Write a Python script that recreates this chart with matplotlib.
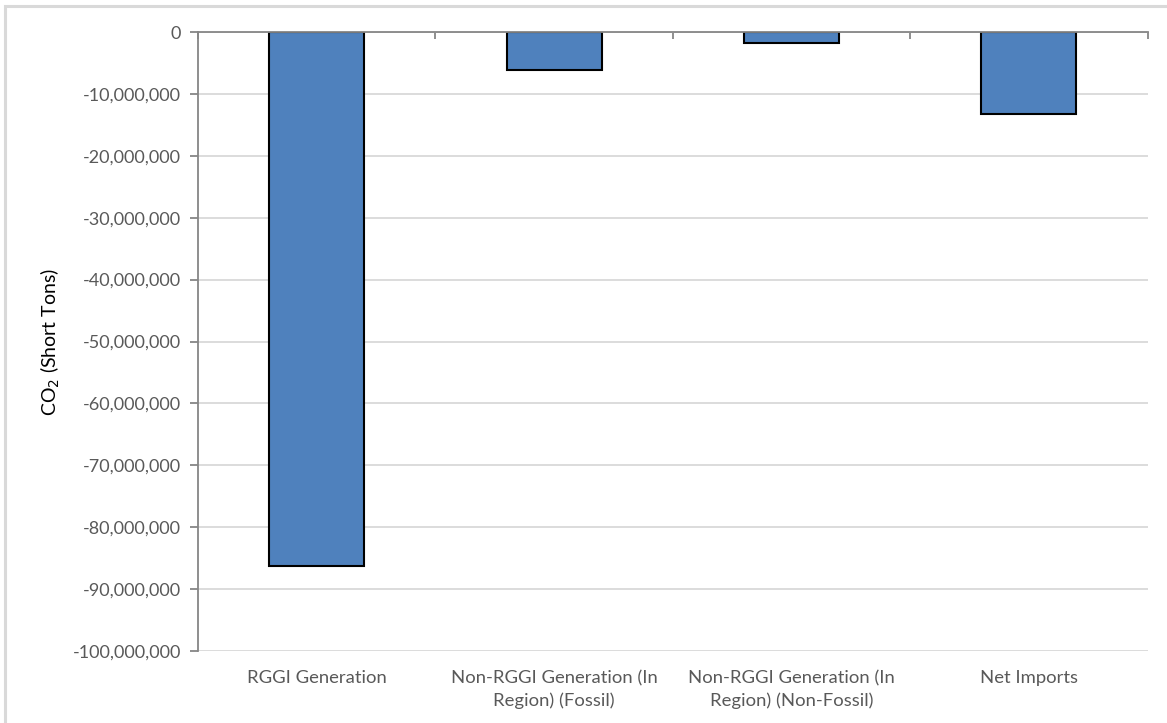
import numpy as np
import matplotlib.pyplot as plt
from matplotlib.patches import Rectangle
from matplotlib.ticker import FuncFormatter

categories = ["RGGI Generation",
              "Non-RGGI Generation (In\nRegion) (Fossil)",
              "Non-RGGI Generation (In\nRegion) (Non-Fossil)",
              "Net Imports"]
co2_change = [-86300000, -6200000, -1700000, -13300000]

plt.rcParams['font.family'] = ['Lato', 'DejaVu Sans']

fig = plt.figure(figsize=(11.67, 7.23), dpi=100)
ax = fig.add_axes([0.1697, 0.0996, 0.8137, 0.8561])

# light outer frame of the chart area
fig.patches.append(Rectangle((0.0045, -0.05), 1.1, 1.0417, transform=fig.transFigure,
                             fill=False, edgecolor="#d9d9d9", linewidth=2.2))

idx = np.arange(len(categories))
ax.bar(idx, co2_change, 0.4, color="#4f81bd", edgecolor="black", linewidth=1.5, zorder=3)

ax.set_xlim(-0.5, len(categories) - 0.5)
ax.set_ylim(-100000000, 0)
ax.set_yticks(np.arange(-100000000, 1, 10000000))
ax.yaxis.set_major_formatter(FuncFormatter(lambda v, p: format(int(v), ",")))
ax.grid(axis="y", color="#d9d9d9", linewidth=1.3, zorder=0)
ax.set_axisbelow(True)

for s in ["right", "bottom"]:
    ax.spines[s].set_visible(False)
for s in ["left", "top"]:
    ax.spines[s].set_color("#868686")
    ax.spines[s].set_linewidth(1.3)
    ax.spines[s].set_zorder(4)

ax.tick_params(axis="y", direction="out", length=6, color="#868686", width=1.3,
               labelsize=13, labelcolor="#595959", pad=6)

# category labels at the bottom, boundary ticks on the zero line at the top
ax.set_xticks(idx)
ax.set_xticklabels(categories, fontsize=13.3, color="#595959", linespacing=1.45)
ax.tick_params(axis="x", length=0, pad=14)
ax.set_xticks(np.arange(-0.5, len(categories)), minor=True)
ax.tick_params(axis="x", which="minor", bottom=False, top=True, direction="in",
               length=5, color="#868686", width=1.3)

ax.set_ylabel("CO$_2$ (Short Tons)", fontsize=14, color="black", labelpad=8)

fig.savefig("out.png", dpi=100)
